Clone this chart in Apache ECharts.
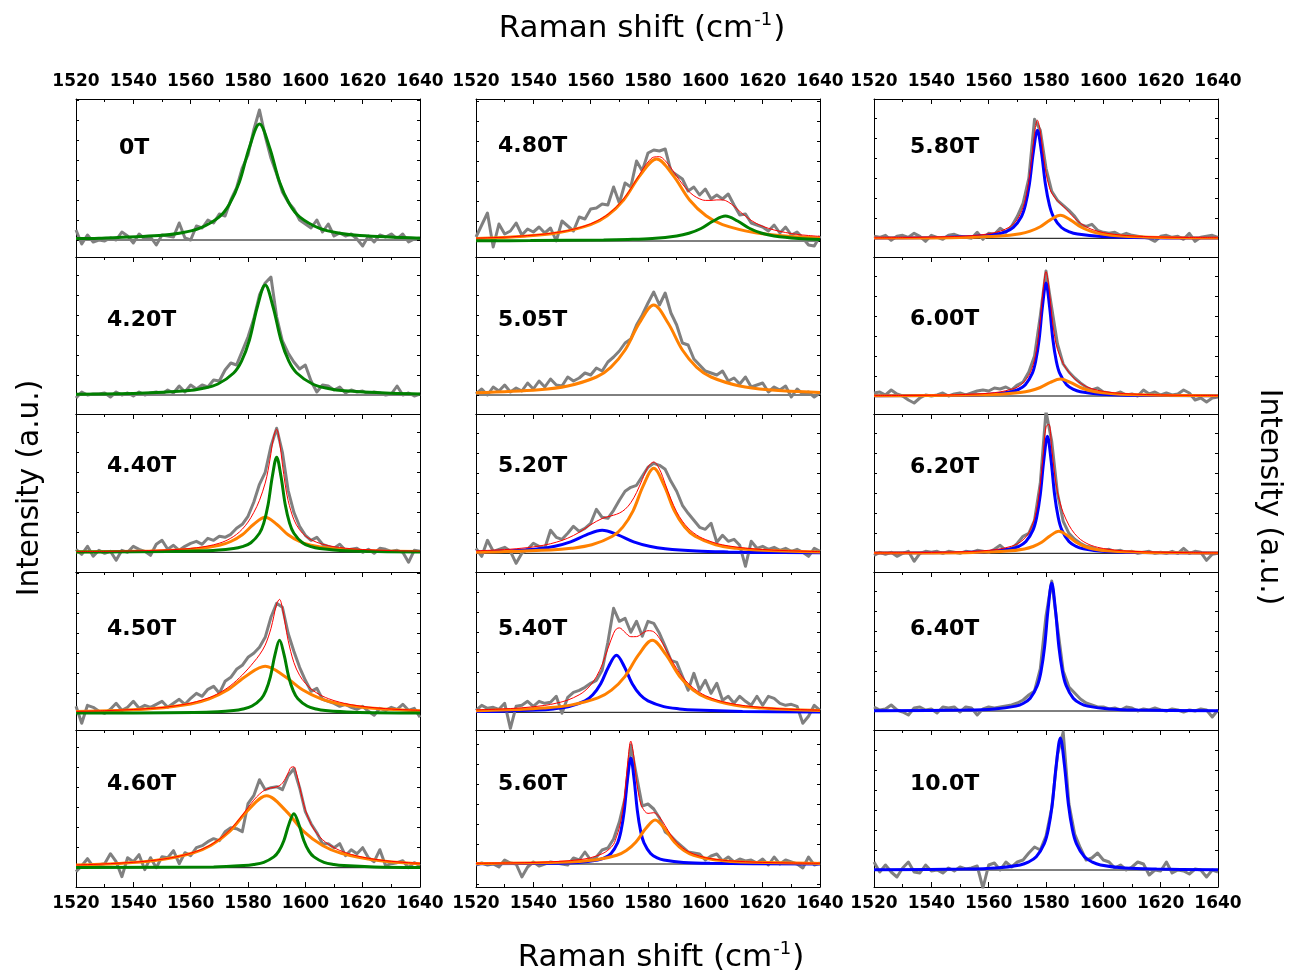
<!DOCTYPE html>
<html>
<head>
<meta charset="utf-8">
<script src="https://cdn.jsdelivr.net/npm/echarts@6/dist/echarts.min.js"></script>
<style>
  html, body { margin: 0; padding: 0; background: #ffffff; }
  #chart { width: 1291px; height: 977px; }
</style>
</head>
<body>
<div id="chart"></div>
<script>
// Raman shift sampling of the measured spectra (cm^-1)
const shift = [1520,1522,1524,1526,1528,1530,1532,1534,1536,1538,
  1540,1542,1544,1546,1548,1550,1552,1554,1556,1558,
  1560,1562,1564,1566,1568,1570,1572,1574,1576,1578,
  1580,1582,1584,1586,1588,1590,1592,1594,1596,1598,
  1600,1602,1604,1606,1608,1610,1612,1614,1616,1618,
  1620,1622,1624,1626,1628,1630,1632,1634,1636,1638,1640];

// Magnetic field of each spectrum (column by column, top to bottom)
const fields = ['0T','4.20T','4.40T','4.50T','4.60T',
                '4.80T','5.05T','5.20T','5.40T','5.60T',
                '5.80T','6.00T','6.20T','6.40T','10.0T'];

// Measured intensities (a.u.), one value per entry of `shift`
const spec_0T = [10,-4,5,-2,0,-1,2,0,8,4, -3,6,1,3,-5,5,4,3,17,2, 0,14,12,20,17,26,24,40,52,72,
  85,110,130,104,82,66,48,38,31,20, 16,12,20,8,16,4,7,4,6,1, -6,4,-2,5,3,6,1,6,-2,1, 2];
const spec_4_20T = [-3,3,0,1,1,2,-2,3,0,2, -1,3,0,2,3,1,5,2,9,3, 10,6,10,8,15,14,25,32,30,44,
  58,76,100,112,118,78,54,42,33,26, 30,14,3,10,9,5,8,2,5,3, 4,1,3,2,0,1,9,0,2,-1, 1];
const spec_4_40T = [3,-2,6,-4,2,-1,1,-8,2,0, 6,3,1,-3,8,12,3,7,2,6, 9,11,8,14,12,16,15,18,24,28,
  36,50,68,80,106,124,100,62,40,26, 17,12,15,8,6,4,8,2,3,4, 0,3,-1,4,3,1,2,0,-10,2, 1];
const spec_4_50T = [7,-10,8,6,2,0,4,10,3,6, 12,5,8,6,9,12,6,10,14,9, 15,20,17,24,27,20,32,36,44,48,
  56,60,66,76,96,110,106,80,62,46, 33,22,25,14,12,10,7,9,6,4, 7,2,-2,5,3,6,4,9,3,5, -4];
const spec_4_60T = [-4,2,9,1,3,4,14,6,-9,10, 6,13,-2,10,0,11,10,17,4,15, 12,20,22,26,29,27,36,40,39,36,
  64,72,88,78,80,81,78,92,99,80, 56,44,35,24,24,20,24,12,18,14, 20,10,6,18,2,4,5,7,0,5, 2];
const spec_4_80T = [4,16,28,-6,17,7,10,18,6,12, 9,14,8,13,0,20,15,10,24,22, 32,33,37,36,54,38,58,54,80,70,
  88,91,90,92,70,66,62,50,54,46, 52,42,46,42,47,36,26,27,18,16, 14,10,16,8,14,6,9,3,-4,-5, 5];
const spec_5_05T = [1,6,0,8,4,10,3,7,4,12, 6,14,8,16,10,9,18,14,17,22, 20,27,24,33,38,44,52,56,70,80,
  92,103,90,102,82,70,52,50,36,30, 24,22,20,24,14,17,11,18,8,10, 12,3,8,5,9,-2,6,1,3,-2, 2];
const spec_5_20T = [5,-3,13,2,4,6,2,-10,0,4, 10,7,5,23,16,14,20,27,22,25, 30,44,36,35,43,53,62,66,68,77,
  86,90,88,84,72,62,48,40,33,26, 24,30,11,18,12,14,8,-13,12,5, 7,4,6,3,5,2,4,1,-3,5, 2];
const spec_5_40T = [2,7,4,5,3,9,-16,6,7,11, 6,11,9,10,16,-1,15,20,22,25, 29,32,42,70,104,91,94,80,91,76,
  91,89,79,66,52,50,36,22,39,22, 32,19,29,12,16,9,16,11,7,16, 7,16,14,9,7,8,6,-11,-4,7, 2];
const spec_5_60T = [-1,1,-1,0,-3,4,1,0,-13,-3, 2,-2,0,2,1,0,-1,6,4,12, 4,7,14,16,25,42,66,119,88,58,
  60,55,46,32,28,22,17,12,11,10, 4,8,10,3,7,2,5,3,4,1, 5,-1,7,0,4,2,0,-4,7,-1, 1];
const spec_5_80T = [2,1,3,-2,2,3,1,5,2,-3, 3,1,-1,3,4,2,1,0,6,-1, 5,4,10,6,12,22,35,60,119,108,
  70,47,38,33,28,22,14,12,14,8, 6,5,6,3,5,3,2,1,0,-3, 2,3,1,2,-1,5,-3,1,2,3, 1];
const spec_6_00T = [3,4,1,6,2,0,-4,-7,-2,1, 0,1,3,0,2,3,1,3,5,6, 5,8,7,9,6,11,14,24,40,80,
  125,88,52,32,24,18,13,9,6,8, 4,3,2,4,1,2,0,6,2,4, 1,3,1,2,6,3,-4,-2,-6,-2, -1];
const spec_6_20T = [-2,1,-1,1,-3,0,2,-8,0,2, 1,2,0,2,1,0,2,1,3,2, 1,4,8,3,5,10,17,20,33,70,
  142,112,60,32,20,14,10,7,6,4, 3,4,2,3,1,2,0,1,2,0, 1,0,2,0,5,0,2,1,-7,-1, 0];
const spec_6_40T = [4,1,2,6,1,-1,-4,3,4,1, 2,-2,4,3,4,-1,4,3,-4,2, 4,3,4,5,6,8,11,16,20,42,
  95,130,84,40,24,18,12,8,6,4, 4,2,3,1,4,3,0,2,1,3, 1,0,2,1,-1,1,0,2,1,-6, 1];
const spec_10_0T = [8,-2,5,-2,-7,2,8,-2,-3,5, -1,0,-3,2,-1,3,1,2,4,-18, 5,7,0,8,3,8,10,17,23,20,
  34,62,115,138,66,36,22,10,12,17, 10,8,2,5,0,3,8,6,-5,0, -1,8,-3,0,-1,-4,1,0,-7,0, -2];

// Fitted peak components, [shift, intensity]
const fit_0T_g = [[1520,1.4],[1528,1.8],[1549,4.5],[1556,6.8],[1563,11.6],[1570,23.2],[1573.5,35.7],[1577,58],[1580.5,92.8],[1584,116],[1587.5,92.8],[1591,58],[1594.5,35.7],[1598,23.2],[1605,11.6],[1612,6.8],[1619,4.5],[1640,1.8]];
const fit_4_20T_g = [[1520,0.8],[1542,1.7],[1558.5,4.2],[1564,6.5],[1569.5,11],[1575,22],[1577.75,33.8],[1580.5,55],[1583.25,88],[1586,110],[1588.75,88],[1591.5,55],[1594.25,33.8],[1597,22],[1602.5,11],[1608,6.5],[1613.5,4.2],[1630,1.7],[1640,1.1]];
const fit_4_40T_g = [[1520,0.2],[1566,1.5],[1575,3.7],[1578,5.6],[1581,9.5],[1584,19],[1585.5,29.2],[1587,47.5],[1588.5,76],[1590,95],[1591.5,76],[1593,47.5],[1594.5,29.2],[1596,19],[1599,9.5],[1602,5.6],[1605,3.7],[1614,1.5],[1640,0.3]];
const fit_4_40T_o = [[1520,0.5],[1546,1.3],[1554,2.1],[1562,3.5],[1570,7],[1574,10.8],[1578,17.5],[1582,28],[1586,35],[1590,28],[1594,17.5],[1598,10.8],[1602,7],[1610,3.5],[1618,2.1],[1626,1.3],[1640,0.8]];
const fit_4_50T_g = [[1520,0.2],[1565.4,1.1],[1575,2.8],[1578.2,4.3],[1581.4,7.3],[1584.6,14.6],[1586.2,22.5],[1587.8,36.5],[1589.4,58.4],[1591,73],[1592.6,58.4],[1594.2,36.5],[1595.8,22.5],[1597.4,14.6],[1600.6,7.3],[1603.8,4.3],[1607,2.8],[1616.6,1.1],[1640,0.3]];
const fit_4_50T_o = [[1520,1.7],[1534,2.8],[1547,4.7],[1560,9.4],[1566.5,14.5],[1573,23.5],[1579.5,37.6],[1586,47],[1592.5,37.6],[1599,23.5],[1605.5,14.5],[1612,9.4],[1625,4.7],[1638,2.8],[1640,2.6]];
const fit_4_60T_g = [[1520,0.1],[1568,0.8],[1578.5,2.1],[1582,3.2],[1585.5,5.4],[1589,10.8],[1590.75,16.6],[1592.5,27],[1594.25,43.2],[1596,54],[1597.75,43.2],[1599.5,27],[1601.25,16.6],[1603,10.8],[1606.5,5.4],[1610,3.2],[1613.5,2.1],[1624,0.8],[1640,0.3]];
const fit_4_60T_o = [[1520,2.65],[1534.5,4.2],[1547.5,7.2],[1560.5,14.4],[1567,22.2],[1573.5,36],[1580,57.6],[1586.5,72],[1593,57.6],[1599.5,36],[1606,22.2],[1612.5,14.4],[1625.5,7.2],[1638.5,4.2],[1640,4.0]];
const fit_4_80T_o = [[1520,2.6],[1537,4.8],[1548.5,8.2],[1560,16.4],[1565.75,25.2],[1571.5,41],[1577.25,65.6],[1583,82],[1588.75,65.6],[1594.5,41],[1600.25,25.2],[1606,16.4],[1617.5,8.2],[1629,4.8],[1640,3.1]];
const fit_4_80T_g = [[1520,0.2],[1539,0.4],[1564.5,1],[1573,1.5],[1581.5,2.5],[1590,5],[1594.25,7.7],[1598.5,12.5],[1602.75,20],[1607,25],[1611.25,20],[1615.5,12.5],[1619.75,7.7],[1624,5],[1632.5,2.5],[1640,1.55]];
const fit_5_05T_o = [[1520,2.2],[1542,5.3],[1552,9],[1562,18],[1567,27.7],[1572,45],[1577,72],[1582,90],[1587,72],[1592,45],[1597,27.7],[1602,18],[1612,9],[1622,5.3],[1640,2.6]];
const fit_5_20T_o = [[1520,1.1],[1524.4,1.3],[1546,3.3],[1553.2,5],[1560.4,8.5],[1567.6,17],[1571.2,26.2],[1574.8,42.5],[1578.4,68],[1582,85],[1585.6,68],[1589.2,42.5],[1592.8,26.2],[1596.4,17],[1603.6,8.5],[1610.8,5],[1618,3.3],[1640,1.3]];
const fit_5_20T_b = [[1520,1.35],[1531,2.3],[1542,4.6],[1547.5,7.1],[1553,11.5],[1558.5,18.4],[1564,23],[1569.5,18.4],[1575,11.5],[1580.5,7.1],[1586,4.6],[1597,2.3],[1608,1.35],[1619,0.9],[1640,0.5]];
const fit_5_40T_b = [[1520,0.7],[1525,0.9],[1541.5,2.2],[1547,3.4],[1552.5,5.7],[1558,11.4],[1560.75,17.5],[1563.5,28.5],[1566.25,45.6],[1569,57],[1571.75,45.6],[1574.5,28.5],[1577.25,17.5],[1580,11.4],[1585.5,5.7],[1591,3.4],[1596.5,2.2],[1613,0.9],[1640,0.3]];
const fit_5_40T_o = [[1520,1.6],[1534,2.8],[1543.5,4.2],[1553,7.2],[1562.5,14.4],[1567.25,22.2],[1572,36],[1576.75,57.6],[1581.5,72],[1586.25,57.6],[1591,36],[1595.75,22.2],[1600.5,14.4],[1610,7.2],[1619.5,4.2],[1629,2.8],[1640,1.8]];
const fit_5_60T_b = [[1520,0.2],[1546.4,0.7],[1555.6,1.6],[1562.5,4.1],[1564.8,6.2],[1567.1,10.6],[1569.4,21.2],[1570.55,32.6],[1571.7,53],[1572.85,84.8],[1574,106],[1575.15,84.8],[1576.3,53],[1577.45,32.6],[1578.6,21.2],[1580.9,10.6],[1583.2,6.2],[1585.5,4.1],[1592.4,1.6],[1601.6,0.7],[1640,0.1]];
const fit_5_60T_o = [[1520,0.5],[1528.9,0.7],[1549,1.7],[1555.7,2.6],[1562.4,4.4],[1569.1,8.8],[1572.45,13.5],[1575.8,22],[1579.15,35.2],[1582.5,44],[1585.85,35.2],[1589.2,22],[1592.55,13.5],[1595.9,8.8],[1602.6,4.4],[1609.3,2.6],[1616,1.7],[1636.1,0.7],[1640,0.6]];
const fit_5_80T_b = [[1520,0.3],[1543.4,0.7],[1554.6,1.7],[1563,4.2],[1565.8,6.4],[1568.6,10.8],[1571.4,21.6],[1572.8,33.2],[1574.2,54],[1575.6,86.4],[1577,108],[1578.4,86.4],[1579.8,54],[1581.2,33.2],[1582.6,21.6],[1585.4,10.8],[1588.2,6.4],[1591,4.2],[1599.4,1.7],[1610.6,0.7],[1640,0.2]];
const fit_5_80T_o = [[1520,0.3],[1529,0.35],[1550,0.9],[1564,2.3],[1571,4.6],[1574.5,7.1],[1578,11.5],[1581.5,18.4],[1585,23],[1588.5,18.4],[1592,11.5],[1595.5,7.1],[1599,4.6],[1606,2.3],[1620,0.9],[1640,0.4]];
const fit_6_00T_b = [[1520,0.2],[1551.2,0.8],[1560.8,1.7],[1568,4.3],[1570.4,6.6],[1572.8,11.3],[1575.2,22.6],[1576.4,34.8],[1577.6,56.5],[1578.8,90.4],[1580,113],[1581.2,90.4],[1582.4,56.5],[1583.6,34.8],[1584.8,22.6],[1587.2,11.3],[1589.6,6.6],[1592,4.3],[1599.2,1.7],[1608.8,0.8],[1640,0.2]];
const fit_6_00T_o = [[1520,0.2],[1529,0.26],[1550,0.65],[1564,1.7],[1571,3.4],[1574.5,5.2],[1578,8.5],[1581.5,13.6],[1585,17],[1588.5,13.6],[1592,8.5],[1595.5,5.2],[1599,3.4],[1606,1.7],[1620,0.65],[1640,0.27]];
const fit_6_20T_b = [[1520,0.2],[1550.5,0.8],[1560.5,1.8],[1568,4.5],[1570.5,6.9],[1573,11.7],[1575.5,23.4],[1576.75,36],[1578,58.5],[1579.25,93.6],[1580.5,117],[1581.75,93.6],[1583,58.5],[1584.25,36],[1585.5,23.4],[1588,11.7],[1590.5,6.9],[1593,4.5],[1600.5,1.8],[1610.5,0.8],[1640,0.2]];
const fit_6_20T_o = [[1520,0.2],[1536.5,0.34],[1554.5,0.85],[1566.5,2.2],[1572.5,4.4],[1575.5,6.8],[1578.5,11],[1581.5,17.6],[1584.5,22],[1587.5,17.6],[1590.5,11],[1593.5,6.8],[1596.5,4.4],[1602.5,2.2],[1614.5,0.85],[1632.5,0.34],[1640,0.25]];
const fit_6_40T_b = [[1520,0.2],[1552,0.9],[1562,2],[1569.5,4.9],[1572,7.5],[1574.5,12.8],[1577,25.6],[1578.25,39.4],[1579.5,64],[1580.75,102.4],[1582,128],[1583.25,102.4],[1584.5,64],[1585.75,39.4],[1587,25.6],[1589.5,12.8],[1592,7.5],[1594.5,4.9],[1602,2],[1612,0.9],[1640,0.2]];
const fit_10_0T_b = [[1520,0.2],[1551.4,0.9],[1562.6,2],[1571,5.1],[1573.8,7.8],[1576.6,13.2],[1579.4,26.4],[1580.8,40.6],[1582.2,66],[1583.6,105.6],[1585,132],[1586.4,105.6],[1587.8,66],[1589.2,40.6],[1590.6,26.4],[1593.4,13.2],[1596.2,7.8],[1599,5.1],[1607.4,2],[1618.6,0.9],[1640,0.3]];

// Total fitted envelope (sum of the components), [shift, intensity]
const sum_4_40T = [[1520,0.7],[1530,0.9],[1540,1.4],[1550,2.2],[1556,3.0],[1560,3.9],[1564,5.3],[1566,6.3],[1568,7.5],[1570,9.1],[1572,11.2],[1574,14.1],[1576,17.9],[1578,23.1],[1580,30.2],[1582,39.7],[1584,51.9],[1586,69.2],[1587,82],[1588,98.7],[1589,116.2],[1590,123],[1591,110.7],[1592,88.2],[1593,67.3],[1594,51.7],[1596,32.7],[1598,22.5],[1600,16.4],[1602,12.6],[1604,10],[1606,8.1],[1608,6.7],[1610,5.6],[1614,4.1],[1620,2.8],[1630,1.7],[1640,1.1]];
const sum_4_50T = [[1520,1.9],[1530,2.6],[1540,3.8],[1546,4.9],[1550,5.8],[1554,7.2],[1558,9.0],[1562,11.6],[1566,15.2],[1568,17.5],[1570,20.4],[1572,23.8],[1574,27.9],[1576,32.8],[1578,38.3],[1580,44.4],[1582,51.1],[1584,58.5],[1586,68.2],[1588,84.7],[1589,97.1],[1590,109.4],[1591,113.9],[1592,105.2],[1593,88.9],[1594,72.9],[1596,50.8],[1598,38],[1600,30],[1602,24.4],[1604,20.3],[1606,17.2],[1608,14.7],[1610,12.7],[1612,11.1],[1614,9.7],[1616,8.6],[1620,6.9],[1624,5.6],[1628,4.7],[1632,3.9],[1636,3.4],[1640,2.9]];
const sum_4_60T = [[1520,2.7],[1524,3.1],[1528,3.5],[1532,4.1],[1536,4.7],[1540,5.4],[1544,6.4],[1548,7.7],[1552,9.3],[1556,11.5],[1560,14.5],[1564,18.6],[1568,24.6],[1572,33.2],[1576,45.2],[1580,60.1],[1582,67.5],[1584,73.6],[1586,77.9],[1588,79.8],[1590,80.8],[1592,84.5],[1594,94.7],[1595,100.3],[1596,100.9],[1597,93.5],[1598,81.1],[1599,68.5],[1600,58],[1602,43.4],[1604,34.3],[1606,28.1],[1608,23.5],[1610,20.1],[1612,17.3],[1614,15.2],[1616,13.3],[1620,10.5],[1624,8.5],[1628,7.0],[1632,5.9],[1636,5.0],[1640,4.4]];
const sum_4_80T = [[1520,2.8],[1524,3.2],[1528,3.6],[1532,4.1],[1536,5.0],[1540,5.9],[1544,7.0],[1548,8.5],[1552,10.5],[1556,13.3],[1560,17.2],[1564,22.9],[1568,31.5],[1572,44.2],[1576,61.6],[1578,71],[1580,79],[1582,83.9],[1584,84.3],[1586,80.3],[1588,73.2],[1590,64.8],[1592,57],[1594,50.3],[1596,45.3],[1598,42.2],[1600,40.6],[1602,40.6],[1604,41.1],[1606,41.1],[1608,39],[1610,34.8],[1612,29.7],[1614,24.8],[1616,20.7],[1618,17.3],[1620,14.7],[1622,12.7],[1624,11],[1628,8.5],[1632,6.6],[1636,5.5],[1640,4.6]];
const sum_5_20T = [[1520,2.5],[1524,2.9],[1528,3.4],[1532,4.1],[1536,5.1],[1540,6.4],[1544,8.3],[1548,11.1],[1552,15.1],[1556,21],[1560,28.5],[1564,34.8],[1568,38.1],[1570,40.2],[1572,44],[1574,50.6],[1576,60.7],[1578,73.7],[1580,86.3],[1582,91.3],[1584,84.2],[1586,69.5],[1588,54.2],[1590,41.5],[1592,32.1],[1594,25.2],[1596,20.2],[1598,16.5],[1600,13.8],[1604,9.8],[1608,7.4],[1614,5.2],[1620,3.8],[1626,2.9],[1632,2.3],[1640,1.7]];
const sum_5_40T = [[1520,2.4],[1528,3.2],[1536,4.5],[1544,6.9],[1548,9.1],[1552,12.2],[1556,17.5],[1558,21.5],[1560,27.3],[1562,35.6],[1564,47.6],[1566,63.6],[1568,79],[1569,83.4],[1570,84.4],[1572,79.9],[1574,75.6],[1576,75.7],[1578,78.9],[1580,81.6],[1582,80.5],[1584,74],[1586,64.2],[1588,53.4],[1590,43.7],[1592,35.5],[1594,29],[1596,23.9],[1598,19.9],[1600,16.7],[1604,12.3],[1608,9.3],[1614,6.5],[1620,4.8],[1626,3.6],[1632,2.8],[1640,2.1]];
const sum_5_60T = [[1520,0.7],[1532,1.1],[1542,1.7],[1550,2.8],[1556,4.3],[1560,6.3],[1564,10.2],[1566,13.7],[1568,19.7],[1569,27.2],[1570,36.1],[1571,50.5],[1572,73.1],[1573,103.7],[1574,122.9],[1575,108.6],[1576,83.1],[1577,65.6],[1578,56.6],[1580,50.6],[1582,51.3],[1584,47],[1586,38.2],[1588,29],[1590,21.6],[1592,16.3],[1594,12.5],[1596,9.9],[1598,7.9],[1600,6.4],[1604,4.5],[1608,3.3],[1614,2.3],[1620,1.6],[1630,1.0],[1640,0.7]];
const sum_5_80T = [[1520,0.5],[1530,0.7],[1540,1.2],[1548,1.8],[1552,2.3],[1556,3.1],[1560,4.5],[1564,7.1],[1566,9.4],[1568,12.8],[1570,19],[1572,31],[1573,41.3],[1574,56.9],[1575,79.1],[1576,104.5],[1577,118],[1578,107.3],[1579,84.8],[1580,65.5],[1581,52.8],[1582,45.2],[1584,37.4],[1586,32],[1588,26],[1590,20],[1592,15.1],[1594,11.6],[1596,8.9],[1598,7.1],[1600,5.7],[1604,3.9],[1608,2.8],[1614,1.8],[1620,1.3],[1630,0.8],[1640,0.6]];
const sum_6_00T = [[1520,0.4],[1530,0.5],[1540,0.8],[1548,1.2],[1556,2.0],[1560,2.8],[1564,4.1],[1568,6.8],[1570,8.8],[1572,13.1],[1574,20.5],[1575,26.8],[1576,36.3],[1577,51.5],[1578,75.2],[1579,106.1],[1580,124.3],[1581,109.1],[1582,81.1],[1583,59.8],[1584,46.6],[1586,32.3],[1588,23.7],[1590,17.1],[1592,12.9],[1594,9.5],[1596,7.3],[1598,5.7],[1600,4.6],[1604,3.1],[1610,2.0],[1620,1.1],[1630,0.7],[1640,0.5]];
const sum_6_20T = [[1520,0.4],[1530,0.55],[1540,0.85],[1548,1.3],[1556,2.1],[1560,3.0],[1564,4.4],[1568,7.1],[1570,9.5],[1572,13.4],[1574,20.5],[1576,34.9],[1577,48.1],[1578,68.6],[1579,98],[1580,126.6],[1581,128.9],[1582,104.7],[1583,79.2],[1584,61.4],[1585,49.5],[1586,40.7],[1588,28.1],[1590,19.6],[1592,13.9],[1594,10.2],[1596,7.7],[1598,6.0],[1600,4.8],[1604,3.2],[1610,2.0],[1620,1.06],[1630,0.67],[1640,0.46]];

// ---------------------------------------------------------------------------
// Drawing
const C_GRAY = '#808080', C_RED = '#ff0000', C_ORANGE = '#ff8000',
      C_GREEN = '#008000', C_BLUE = '#0000ff';

const panels = [
  { spec: spec_0T,    comps: [[fit_0T_g, C_GREEN]] },
  { spec: spec_4_20T, comps: [[fit_4_20T_g, C_GREEN]] },
  { spec: spec_4_40T, comps: [[fit_4_40T_o, C_ORANGE], [fit_4_40T_g, C_GREEN]], total: sum_4_40T },
  { spec: spec_4_50T, comps: [[fit_4_50T_o, C_ORANGE], [fit_4_50T_g, C_GREEN]], total: sum_4_50T },
  { spec: spec_4_60T, comps: [[fit_4_60T_o, C_ORANGE], [fit_4_60T_g, C_GREEN]], total: sum_4_60T },
  { spec: spec_4_80T, comps: [[fit_4_80T_o, C_ORANGE], [fit_4_80T_g, C_GREEN]], total: sum_4_80T },
  { spec: spec_5_05T, comps: [[fit_5_05T_o, C_ORANGE]] },
  { spec: spec_5_20T, comps: [[fit_5_20T_b, C_BLUE], [fit_5_20T_o, C_ORANGE]], total: sum_5_20T },
  { spec: spec_5_40T, comps: [[fit_5_40T_b, C_BLUE], [fit_5_40T_o, C_ORANGE]], total: sum_5_40T },
  { spec: spec_5_60T, comps: [[fit_5_60T_b, C_BLUE], [fit_5_60T_o, C_ORANGE]], total: sum_5_60T },
  { spec: spec_5_80T, comps: [[fit_5_80T_b, C_BLUE], [fit_5_80T_o, C_ORANGE]], total: sum_5_80T },
  { spec: spec_6_00T, comps: [[fit_6_00T_b, C_BLUE], [fit_6_00T_o, C_ORANGE]], total: sum_6_00T },
  { spec: spec_6_20T, comps: [[fit_6_20T_b, C_BLUE], [fit_6_20T_o, C_ORANGE]], total: sum_6_20T },
  { spec: spec_6_40T, comps: [[fit_6_40T_b, C_BLUE]] },
  { spec: spec_10_0T, comps: [[fit_10_0T_b, C_BLUE]] }
];

// panel geometry (px)
const colLeft = [76, 476, 874];
const colWidth = 344;
const rowTop = [99, 257, 414, 572, 730];
const rowHeight = [158, 157, 158, 158, 157];
// distance of the zero line above each panel's bottom edge
const zeroOffset = [17, 19, 19.7, 16.7, 19.3,  16, 19, 18.7, 17.7, 23,  18.7, 18, 18.7, 19, 17];
// field label anchor (left, vertical centre)
const labelPos = [[119,148],[107,320],[107,466],[107,629],[107,784],
                  [498,146],[498,320],[498,466],[498,629],[498,784],
                  [910,147],[910,319],[910,467],[910,629],[910,784]];

const FONT = '"DejaVu Sans", "Liberation Sans", Arial, sans-serif';
const tickLabel = { fontFamily: FONT, fontWeight: 'bold', fontSize: 17, color: '#000',
                    formatter: v => String(v) };

const grids = [], xAxes = [], yAxes = [], series = [], graphics = [];

panels.forEach((p, i) => {
  const col = Math.floor(i / 5), row = i % 5;
  grids.push({ left: colLeft[col], top: rowTop[row], width: colWidth, height: rowHeight[row], containLabel: false });
  const lineBlack = { show: true, onZero: false, lineStyle: { color: '#000', width: 1 } };
  // top axis: ticks on every panel, labels on the first row
  xAxes.push({
    gridIndex: i, type: 'value', position: 'top', min: 1520, max: 1640, interval: 20,
    axisLine: lineBlack,
    axisTick: { show: true, inside: true, length: 5, lineStyle: { color: '#000' } },
    minorTick: { show: true, splitNumber: 2, length: 3, lineStyle: { color: '#000' } },
    axisLabel: Object.assign({ show: row === 0, margin: 9 }, tickLabel),
    splitLine: { show: false }
  });
  // bottom axis: ticks and labels on the last row only
  xAxes.push({
    gridIndex: i, type: 'value', position: 'bottom', min: 1520, max: 1640, interval: 20,
    axisLine: lineBlack,
    axisTick: { show: row === 4, inside: true, length: 5, lineStyle: { color: '#000' } },
    minorTick: { show: row === 4, splitNumber: 2, length: 3, lineStyle: { color: '#000' } },
    axisLabel: Object.assign({ show: row === 4, margin: 8 }, tickLabel),
    splitLine: { show: false }
  });
  const yMin = -zeroOffset[i], yMax = rowHeight[row] - zeroOffset[i];
  ['left', 'right'].forEach(pos => {
    yAxes.push({
      gridIndex: i, type: 'value', position: pos, min: yMin, max: yMax, splitNumber: 9,
      axisLine: lineBlack,
      axisTick: { show: true, inside: true, length: 3, lineStyle: { color: '#000' } },
      axisLabel: { show: false }, splitLine: { show: false }
    });
  });

  const xi = 2 * i, yi = 2 * i;
  const base = { type: 'line', xAxisIndex: xi, yAxisIndex: yi, showSymbol: false, symbol: 'none', silent: true, animation: false };
  // zero line
  series.push(Object.assign({}, base, { data: [[1520, 0], [1640, 0]], lineStyle: { color: '#000', width: 1 }, z: 1 }));
  // measured spectrum
  series.push(Object.assign({}, base, {
    data: shift.map((x, k) => [x, p.spec[k]]),
    lineStyle: { color: C_GRAY, width: 3, join: 'round' }, z: 2
  }));
  // fitted components
  p.comps.forEach(([d, c]) => {
    series.push(Object.assign({}, base, {
      data: d, smooth: 0.35,
      lineStyle: { color: c, width: 3 }, z: 3
    }));
  });
  // total fit
  if (p.total) {
    series.push(Object.assign({}, base, {
      data: p.total, smooth: 0.35,
      lineStyle: { color: C_RED, width: 1 }, z: 4
    }));
  }
  graphics.push({
    type: 'text', x: labelPos[i][0], y: labelPos[i][1], silent: true,
    style: { text: fields[i], fill: '#000', font: 'bold 22px ' + FONT,
             align: 'left', verticalAlign: 'middle', textAlign: 'left', textVerticalAlign: 'middle' }
  });
});

const axisTitleRich = {
  m: { fontFamily: FONT, fontSize: 31, color: '#000' },
  s: { fontFamily: FONT, fontSize: 18, color: '#000', verticalAlign: 'top', padding: [0, 1, 18, 1] }
};
[[642, 29], [661, 958]].forEach(([x, y]) => {
  graphics.push({
    type: 'text', x: x, y: y, silent: true,
    style: { text: '{m|Raman shift (cm}{s|-1}{m|)}', rich: axisTitleRich,
             align: 'center', verticalAlign: 'middle', textAlign: 'center', textVerticalAlign: 'middle' }
  });
});
graphics.push({
  type: 'text', x: 30, y: 488, rotation: Math.PI / 2, silent: true,
  style: { text: 'Intensity (a.u.)', fill: '#000', font: '29.5px ' + FONT,
           align: 'center', verticalAlign: 'middle', textAlign: 'center', textVerticalAlign: 'middle' }
});
graphics.push({
  type: 'text', x: 1269, y: 497, rotation: -Math.PI / 2, silent: true,
  style: { text: 'Intensity (a.u.)', fill: '#000', font: '29.5px ' + FONT,
           align: 'center', verticalAlign: 'middle', textAlign: 'center', textVerticalAlign: 'middle' }
});

const chart = echarts.init(document.getElementById('chart'), null, { renderer: 'canvas' });
chart.setOption({
  animation: false,
  backgroundColor: '#ffffff',
  grid: grids,
  xAxis: xAxes,
  yAxis: yAxes,
  series: series,
  graphic: graphics
});
</script>
</body>
</html>
